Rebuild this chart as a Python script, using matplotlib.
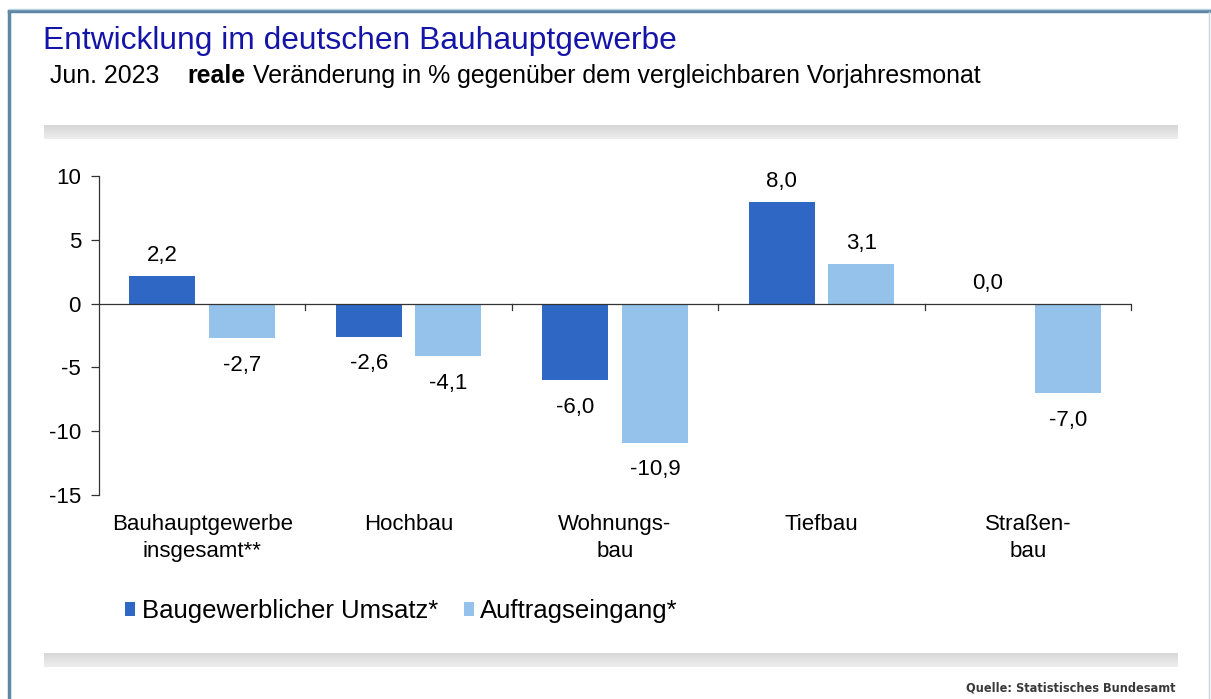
import matplotlib
matplotlib.use("Agg")
import matplotlib.pyplot as plt
import numpy as np
from matplotlib.lines import Line2D

categories = ["Bauhauptgewerbe\ninsgesamt**", "Hochbau", "Wohnungs-\nbau", "Tiefbau", "Straßen-\nbau"]
umsatz = [2.2, -2.6, -6.0, 8.0, 0.0]
auftrag = [-2.7, -4.1, -10.9, 3.1, -7.0]
series_names = ["Baugewerblicher Umsatz*", "Auftragseingang*"]
yticks = [10, 5, 0, -5, -10, -15]

c_dark = "#2E67C4"
c_light = "#94C2EA"

plt.rcParams['font.family'] = ['Liberation Sans', 'DejaVu Sans']

W, H = 1211, 699
fig = plt.figure(figsize=(W / 100, H / 100), dpi=100)

def fx(px):
    return px / W

def fy(py):
    return 1 - py / H

# Frame
fig.add_artist(Line2D([fx(9), fx(9)], [fy(12), fy(699)], color="#5f88a6", lw=2.5))
fig.add_artist(Line2D([fx(9), fx(1211)], [fy(11), fy(11)], color="#5f88a6", lw=2.5))
fig.add_artist(Line2D([fx(9), fx(1211)], [fy(9), fy(9)], color="#b9d3e3", lw=1))
fig.add_artist(Line2D([fx(1209), fx(1209)], [fy(12), fy(699)], color="#c5d6e2", lw=1))

# Gray gradient bands
def band(y0, y1):
    ax_b = fig.add_axes([fx(44), fy(y1), fx(1178) - fx(44), fy(y0) - fy(y1)])
    grad = np.linspace(0.84, 0.93, 20).reshape(-1, 1)
    ax_b.imshow(grad, aspect="auto", cmap="gray", vmin=0, vmax=1, extent=[0, 1, 0, 1])
    ax_b.set_axis_off()

band(125, 139)
band(653, 667)

# Titles
fig.text(fx(43), fy(41), "Entwicklung im deutschen Bauhauptgewerbe", color="#1414A8",
         fontsize=22.9, va="center", ha="left")
fig.text(fx(50), fy(76), "Jun. 2023", color="black", fontsize=17.9, va="center", ha="left")
fig.text(fx(187), fy(76), "reale", color="black", fontsize=17.9, va="center", ha="left", fontweight="bold")
fig.text(fx(253), fy(76), "Veränderung in % gegenüber dem vergleichbaren Vorjahresmonat",
         color="black", fontsize=17.9, va="center", ha="left")

# Main axes
ax = fig.add_axes([fx(99), fy(495), fx(1131) - fx(99), fy(176) - fy(495)])
x = np.arange(len(categories))
bw = 0.32
off = 0.193
b1 = ax.bar(x - off, umsatz, bw, color=c_dark, label=series_names[0])
b2 = ax.bar(x + off, auftrag, bw, color=c_light, label=series_names[1])
ax.set_xlim(-0.5, len(categories) - 0.5)
ax.set_ylim(-15, 10)
ax.set_yticks(yticks)
ax.set_yticklabels([str(t) for t in yticks], fontsize=16)
for s in ["top", "right", "bottom"]:
    ax.spines[s].set_visible(False)
ax.spines["left"].set_color("#333333")
ax.spines["left"].set_linewidth(0.9)
ax.tick_params(axis="y", length=6, width=0.9, color="#333333", pad=7)
ax.set_xticks([])
ax.axhline(0, color="#333333", lw=0.9)
for b in np.arange(0.5, len(categories), 1.0):
    ax.plot([b, b], [0, -0.5], color="#333333", lw=0.9, clip_on=False)

def fmt(v):
    return f"{v:.1f}".replace(".", ",")

def label(xs, vals):
    for xi, v in zip(xs, vals):
        if v >= 0:
            ax.annotate(fmt(v), (xi, v), xytext=(0, 7), textcoords="offset points",
                        ha="center", va="bottom", fontsize=16)
        else:
            ax.annotate(fmt(v), (xi, v), xytext=(0, -12), textcoords="offset points",
                        ha="center", va="top", fontsize=16)

label(x - off, umsatz)
label(x + off, auftrag)

# Category labels
for xi, lab in zip(x, categories):
    ax.annotate(lab, (xi, -15), xytext=(0, -14), textcoords="offset points",
                ha="center", va="top", fontsize=16, linespacing=1.32)

# Legend
fig.legend(handles=[b1, b2], labels=series_names, loc="center left",
           bbox_to_anchor=(fx(125), fy(611)), frameon=False, fontsize=18.5,
           ncol=2, handlelength=0.4, handleheight=0.45, handletextpad=0.25,
           columnspacing=1.0, borderpad=0, borderaxespad=0)

# Source
fig.text(fx(1176), fy(688), "Quelle: Statistisches Bundesamt",
         family=['DejaVu Sans'], fontstretch="condensed", fontweight="bold", fontsize=9.1,
         color="#3a3a3a", ha="right", va="center")

fig.savefig("out.png", dpi=100)
